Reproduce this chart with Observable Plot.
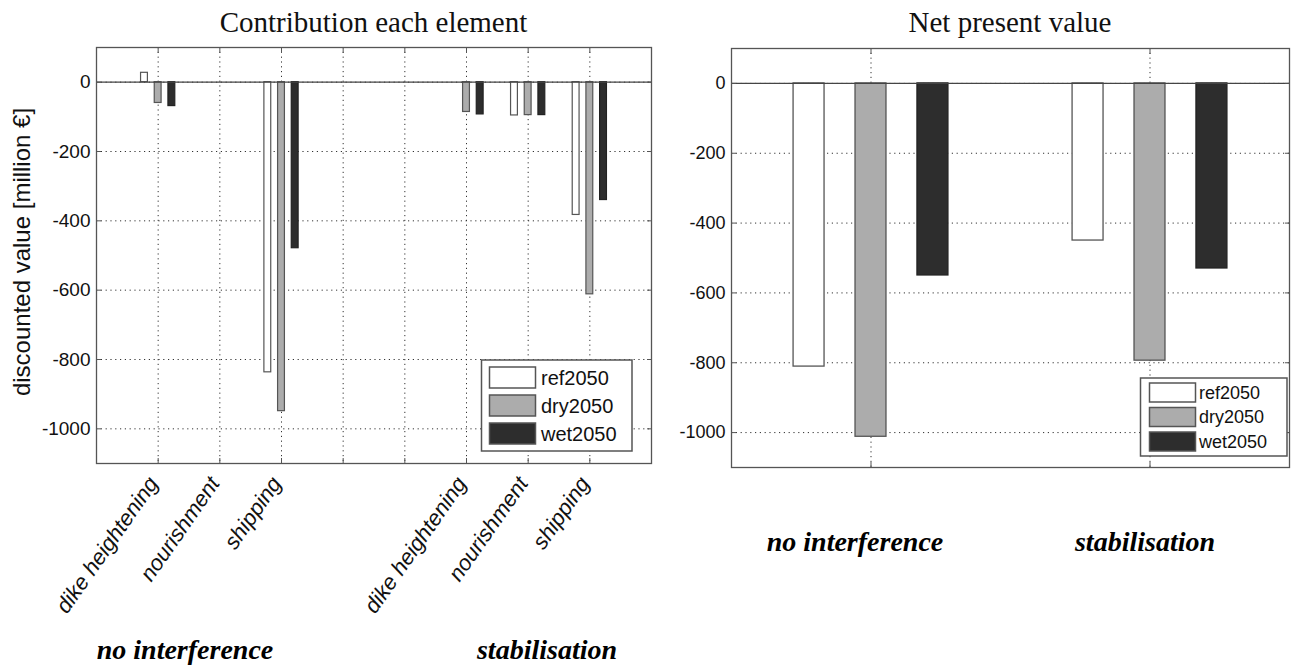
<!DOCTYPE html>
<html>
<head>
<meta charset="utf-8">
<script src="https://cdn.jsdelivr.net/npm/d3@7"></script>
<script src="https://cdn.jsdelivr.net/npm/@observablehq/plot@0.6"></script>
<style>
  html, body { margin: 0; padding: 0; background: #fff; }
  #wrap { position: relative; width: 1292px; height: 668px; overflow: hidden; background: #fff; }
  #wrap > svg, #wrap > div { position: absolute; }
  #overlay { left: 0; top: 0; pointer-events: none; }
</style>
</head>
<body>
<div id="wrap"></div>
<script>
// ---------------- data ----------------
const scenarios = ["ref2050", "dry2050", "wet2050"];
const strategies = ["no interference", "stabilisation"];
const elements = ["dike heightening", "nourishment", "shipping"];

// contribution of each element, order: [no interference: dike, nourishment, shipping, stabilisation: dike, nourishment, shipping]
const contribRef = [27, 0, -837, 0, -96, -383];
const contribDry = [-60, 0, -949, -86, -95, -612];
const contribWet = [-69, 0, -479, -93, -95, -340];

// net present value, order: [no interference, stabilisation]
const npvRef = [-811, -450];
const npvDry = [-1012, -794];
const npvWet = [-550, -530];

const yTicks = [0, -200, -400, -600, -800, -1000];

// ---------------- styles ----------------
const fills = ["#ffffff", "#acacac", "#2d2d2d"];
const strokes = ["#555555", "#555555", "#222222"];
const sans = "'Liberation Sans', Arial, sans-serif";
const serif = "'Liberation Serif', 'Times New Roman', serif";

// ---------------- tables ----------------
const contribSeries = [contribRef, contribDry, contribWet];
const contribRows = [];
strategies.forEach((s, si) => elements.forEach((e, ei) => {
  const k = si * elements.length + ei;
  const slot = si * 5 + ei + 1; // two empty slots between the strategy groups
  scenarios.forEach((sc, j) => {
    contribRows.push({strategy: s, element: e, slot, j, scenario: sc, value: contribSeries[j][k]});
  });
}));
const npvSeries = [npvRef, npvDry, npvWet];
const npvRows = [];
strategies.forEach((s, si) => scenarios.forEach((sc, j) => {
  npvRows.push({strategy: s, slot: si + 1, j, scenario: sc, value: npvSeries[j][si]});
}));

const off = 0.222, bw = 0.111;
const labelSlots = [];
strategies.forEach((s, si) => elements.forEach((e, ei) => labelSlots.push({slot: si * 5 + ei + 1, label: e})));
const slotLabel = new Map(labelSlots.map(d => [d.slot, d.label]));

const gridStyle = {stroke: "#333", strokeOpacity: 1, strokeDasharray: "1.2,3.6", strokeWidth: 1};
const colorScale = {domain: scenarios, range: fills, legend: false};
const innerTick = {tickSize: -5, tickFormat: () => "", label: null, stroke: "#555"};

const leftSlots = d3.range(1, 9);
const left = Plot.plot({
  width: 660, height: 668,
  marginTop: 47, marginBottom: 205, marginLeft: 96, marginRight: 9,
  x: {type: "linear", domain: [0, 9]},
  y: {domain: [-1100, 100]},
  color: colorScale,
  style: {fontFamily: sans, background: "transparent", color: "#111"},
  marks: [
    Plot.gridX(leftSlots, gridStyle),
    Plot.gridY(yTicks, gridStyle),
    Plot.rect(contribRows.filter(d => d.value !== 0), {
      x1: d => d.slot + (d.j - 1) * off - bw / 2,
      x2: d => d.slot + (d.j - 1) * off + bw / 2,
      y1: 0, y2: "value", fill: "scenario",
      stroke: d => strokes[d.j], strokeWidth: 1.2
    }),
    Plot.ruleY([0], {stroke: "#444", strokeWidth: 1.2}),
    Plot.axisX(leftSlots, {anchor: "bottom", ...innerTick}),
    Plot.axisX(leftSlots, {anchor: "top", ...innerTick}),
    Plot.axisY(yTicks, {anchor: "left", ...innerTick}),
    Plot.axisY(yTicks, {anchor: "right", ...innerTick}),
    Plot.frame({stroke: "#555", strokeWidth: 1.3}),
    Plot.axisY(yTicks, {tickSize: 0, tickPadding: 6, tickFormat: d => String(d), fontSize: 19, label: null}),
    Plot.axisX(labelSlots.map(d => d.slot), {
      tickSize: 0, tickPadding: 16, tickRotate: -55, dx: -5,
      tickFormat: d => slotLabel.get(d), fontSize: 22, fontStyle: "italic", label: null
    })
  ]
});

const rightSlots = [1, 2];
const right = Plot.plot({
  width: 632, height: 668,
  marginTop: 48, marginBottom: 201, marginLeft: 71, marginRight: 3,
  x: {type: "linear", domain: [0.5, 2.5]},
  y: {domain: [-1100, 100]},
  color: colorScale,
  style: {fontFamily: sans, background: "transparent", color: "#111"},
  marks: [
    Plot.gridX(rightSlots, gridStyle),
    Plot.gridY(yTicks, gridStyle),
    Plot.rect(npvRows, {
      x1: d => d.slot + (d.j - 1) * off - bw / 2,
      x2: d => d.slot + (d.j - 1) * off + bw / 2,
      y1: 0, y2: "value", fill: "scenario",
      stroke: d => strokes[d.j], strokeWidth: 1.3
    }),
    Plot.ruleY([0], {stroke: "#444", strokeWidth: 1.2}),
    Plot.axisX(rightSlots, {anchor: "bottom", ...innerTick}),
    Plot.axisX(rightSlots, {anchor: "top", ...innerTick}),
    Plot.axisY(yTicks, {anchor: "left", ...innerTick}),
    Plot.axisY(yTicks, {anchor: "right", ...innerTick}),
    Plot.frame({stroke: "#555", strokeWidth: 1.3}),
    Plot.axisY(yTicks, {tickSize: 0, tickPadding: 6, tickFormat: d => String(d), fontSize: 18, label: null})
  ]
});

const wrap = document.getElementById("wrap");
left.style.left = "0px"; left.style.top = "0px";
right.style.left = "660px"; right.style.top = "0px";
wrap.appendChild(left);
wrap.appendChild(right);
left.querySelectorAll('g[aria-label="x-axis tick label"] text').forEach(t => {
  t.style.fontStyle = "italic";
  t.style.fontSize = "22px";
});

// ---------------- titles, group labels, legends ----------------
const ns = "http://www.w3.org/2000/svg";
const ov = document.createElementNS(ns, "svg");
ov.setAttribute("id", "overlay");
ov.setAttribute("width", 1292); ov.setAttribute("height", 668);
wrap.appendChild(ov);
function txt(x, y, s, attrs) {
  const t = document.createElementNS(ns, "text");
  t.setAttribute("x", x); t.setAttribute("y", y);
  for (const k in attrs) t.setAttribute(k, attrs[k]);
  t.textContent = s;
  ov.appendChild(t);
  return t;
}
function rect(x, y, w, h, attrs) {
  const r = document.createElementNS(ns, "rect");
  r.setAttribute("x", x); r.setAttribute("y", y); r.setAttribute("width", w); r.setAttribute("height", h);
  for (const k in attrs) r.setAttribute(k, attrs[k]);
  ov.appendChild(r);
}
txt(373.5, 32, "Contribution each element", {"text-anchor": "middle", "font-family": serif, "font-size": 29, fill: "#111"});
txt(1010, 32, "Net present value", {"text-anchor": "middle", "font-family": serif, "font-size": 29, fill: "#111"});
txt(0, 0, "discounted value [million €]", {"text-anchor": "middle", "font-family": sans, "font-size": 24, fill: "#111",
  transform: "translate(30,252) rotate(-90)"});

const gStyle = {"text-anchor": "middle", "font-family": serif, "font-size": 28, "font-weight": "bold", "font-style": "italic", fill: "#000"};
txt(185, 659, strategies[0], gStyle);
txt(547, 659, strategies[1], gStyle);
txt(855, 551, strategies[0], gStyle);
txt(1145, 551, strategies[1], gStyle);

function legend(x, y, w, h, sx, sw, sh, step, top, tx, fs) {
  rect(x, y, w, h, {fill: "#fff", stroke: "#555", "stroke-width": 1.5});
  scenarios.forEach((s, i) => {
    rect(sx, top + i * step, sw, sh, {fill: fills[i], stroke: "#555", "stroke-width": 1.5});
    txt(tx, top + i * step + sh / 2, s, {"font-family": sans, "font-size": fs, "dominant-baseline": "central", fill: "#111"});
  });
}
legend(481.5, 360, 150.5, 91, 489.5, 46, 21, 28, 367, 541, 20);
legend(1140.5, 378, 146.5, 78, 1149.5, 46, 19, 24.5, 383, 1199, 18);
</script>
</body>
</html>
